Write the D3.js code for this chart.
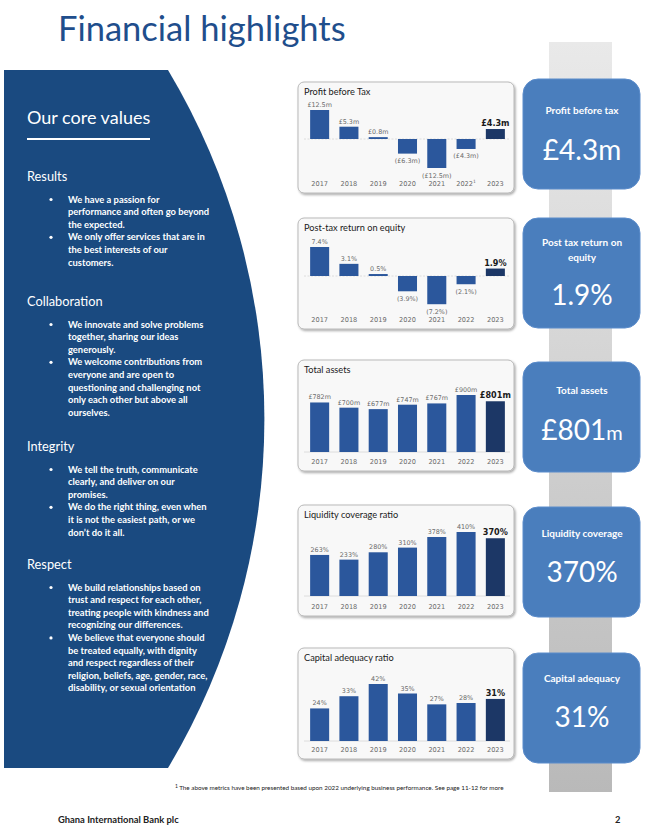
<!DOCTYPE html>
<html><head><meta charset="utf-8">
<script src="https://cdn.jsdelivr.net/npm/d3@7/dist/d3.min.js"></script>
<style>
html,body{margin:0;padding:0;background:#fff;}
svg{display:block;}
</style></head>
<body>
<script>
// ---------- data ----------
const years = ["2017","2018","2019","2020","2021","2022","2023"];
const profitBeforeTax = [12.5, 5.3, 0.8, -6.3, -12.5, -4.3, 4.3];
const returnOnEquity = [7.4, 3.1, 0.5, -3.9, -7.2, -2.1, 1.9];
const totalAssets = [782, 700, 677, 747, 767, 900, 801];
const liquidityCoverage = [263, 233, 280, 310, 378, 410, 370];
const capitalAdequacy = [24, 33, 42, 35, 27, 28, 31];
const chartTitles = ["Profit before Tax","Post-tax return on equity","Total assets","Liquidity coverage ratio","Capital adequacy ratio"];
const kpiTitles = [["Profit before tax"],["Post tax return on","equity"],["Total assets"],["Liquidity coverage"],["Capital adequacy"]];
const kpiValues = ["£4.3m","1.9%","£801","370%","31%"];
const valueGroups = [
  {title:"Results", bullets:[
    ["We have a passion for","performance and often go beyond","the expected."],
    ["We only offer services that are in","the best interests of our","customers."]]},
  {title:"Collaboration", bullets:[
    ["We innovate and solve problems","together, sharing our ideas","generously."],
    ["We welcome contributions from","everyone and are open to","questioning and challenging not","only each other but above all","ourselves."]]},
  {title:"Integrity", bullets:[
    ["We tell the truth, communicate","clearly, and deliver on our","promises."],
    ["We do the right thing, even when","it is not the easiest path, or we","don\u2019t do it all."]]},
  {title:"Respect", bullets:[
    ["We build relationships based on","trust and respect for each other,","treating people with kindness and","recognizing our differences."],
    ["We believe that everyone should","be treated equally, with dignity","and respect regardless of their","religion, beliefs, age, gender, race,","disability, or sexual orientation"]]}
];

const fmtPBT = v => v < 0 ? `(£${Math.abs(v).toFixed(1)}m)` : `£${v.toFixed(1)}m`;
const fmtROE = v => v < 0 ? `(${Math.abs(v).toFixed(1)}%)` : `${v.toFixed(1)}%`;
const fmtAssets = v => `£${v}m`;
const fmtPct = v => `${v}%`;

// ---------- layout ----------
const W = 647, H = 835;
const svg = d3.select("body").append("svg").attr("width", W).attr("height", H);
const defs = svg.append("defs");
const sh = defs.append("filter").attr("id","shadow").attr("x","-10%").attr("y","-10%").attr("width","130%").attr("height","130%");
sh.append("feDropShadow").attr("dx",1.2).attr("dy",1.5).attr("stdDeviation",1.2).attr("flood-color","#000").attr("flood-opacity",0.35);
const grad = defs.append("linearGradient").attr("id","colgrad").attr("x1",0).attr("y1",0).attr("x2",0).attr("y2",1);
grad.append("stop").attr("offset","0%").attr("stop-color","#e9e9e9");
grad.append("stop").attr("offset","100%").attr("stop-color","#b9b9b9");

const SANS = "Lato, 'Open Sans', sans-serif";
const GEO = "'DejaVu Sans', sans-serif";

// Title
svg.append("text").attr("x",58).attr("y",41).attr("font-family",SANS).attr("font-size",34.5)
  .attr("fill","#1f4e8c").text("Financial highlights");

// Left panel
svg.append("path").attr("d","M4,70 L168,70 A680,680 0 0 1 168,768 L4,768 Z").attr("fill","#1a4a80");
svg.append("text").attr("x",27).attr("y",124).attr("font-family",SANS).attr("font-size",18)
  .attr("fill","#fff").text("Our core values");
svg.append("rect").attr("x",27).attr("y",138).attr("width",123).attr("height",2).attr("fill","#fff");

const headY = [181, 306, 451, 569];
const LH = 12.6;
valueGroups.forEach((g, gi) => {
  let y = headY[gi];
  svg.append("text").attr("x",27).attr("y",y).attr("font-family",SANS).attr("font-size",12.8)
    .attr("fill","#fff").text(g.title);
  y += 21.5;
  g.bullets.forEach(lines => {
    svg.append("circle").attr("cx",51).attr("cy",y-3).attr("r",1.6).attr("fill","#fff");
    lines.forEach(l => {
      svg.append("text").attr("x",68).attr("y",y).attr("font-family",SANS).attr("font-weight",700)
        .attr("font-size",9.4).attr("fill","#fff").text(l);
      y += LH;
    });
  });
});

// Gray column + KPI boxes
svg.append("rect").attr("x",549).attr("y",42).attr("width",63).attr("height",750).attr("fill","url(#colgrad)");
const boxTop = [79, 218, 362, 507, 653];
const boxTitleY = [113.5, 245.5, 393.5, 536.5, 681.5];
const boxValueY = [160, 305, 440, 582, 727];
boxTop.forEach((t, i) => {
  const g = svg.append("g");
  g.append("rect").attr("x",523).attr("y",t).attr("width",117).attr("height",110).attr("rx",15)
    .attr("fill","#4a7ebd").attr("stroke","#5b8ccb").attr("stroke-width",1);
  kpiTitles[i].forEach((s, k) => {
    g.append("text").attr("x",582).attr("y",boxTitleY[i] + k*15.5).attr("text-anchor","middle")
      .attr("font-family",SANS).attr("font-weight",700).attr("font-size",10).attr("fill","#fff").text(s);
  });
  const vt = g.append("text").attr("x",582).attr("y",boxValueY[i]).attr("text-anchor","middle")
    .attr("font-family",SANS).attr("font-size",28).attr("fill","#fff").text(kpiValues[i]);
  if (i === 2) vt.append("tspan").attr("font-size",20).text("m");
});

// ---------- charts ----------
const charts = [
  {data:profitBeforeTax, fmt:fmtPBT, top:82, domain:[-12.5,12.5], range:[168,110], zeroLine:true},
  {data:returnOnEquity, fmt:fmtROE, top:218, domain:[-7.4,7.4], range:[305,247], zeroLine:true},
  {data:totalAssets, fmt:fmtAssets, top:360, domain:[0,900], range:[452,395]},
  {data:liquidityCoverage, fmt:fmtPct, top:505, domain:[0,410], range:[596,532]},
  {data:capitalAdequacy, fmt:fmtPct, top:648, domain:[0,42], range:[741,684]}
];
const x = d3.scaleBand().domain(years).range([305, 510]).paddingInner(0.35).paddingOuter(0.175);

charts.forEach((c, ci) => {
  const g = svg.append("g");
  g.append("rect").attr("x",298).attr("y",c.top).attr("width",216).attr("height",111).attr("rx",6)
    .attr("fill","#f8f8f8").attr("stroke","#a9a9a9").attr("stroke-width",0.8).attr("filter","url(#shadow)");
  g.append("text").attr("x",304).attr("y",c.top+13).attr("font-family",SANS).attr("font-size",9.2)
    .attr("fill","#1a1a1a").text(chartTitles[ci]);
  const y = d3.scaleLinear().domain(c.domain).range(c.range);
  const y0 = y(0);
  g.append("line").attr("x1",304).attr("x2",510).attr("y1",y0).attr("y2",y0)
    .attr("stroke","#d6d6d6").attr("stroke-width",0.8).attr("stroke-dasharray", c.zeroLine ? "2,1.5" : null);
  years.forEach((yr, i) => {
    const v = c.data[i];
    const last = i === years.length - 1;
    g.append("rect").attr("x",x(yr)).attr("width",x.bandwidth())
      .attr("y",Math.min(y(v), y0)).attr("height",Math.abs(y(v) - y0))
      .attr("fill", last ? "#1c3766" : "#2b579c");
    const cx = x(yr) + x.bandwidth()/2;
    const lbl = g.append("text").attr("x",cx).attr("text-anchor","middle").text(c.fmt(v));
    if (last) {
      lbl.attr("y", y(v) - 3).attr("font-family",GEO).attr("font-weight",700).attr("font-size",8.1).attr("fill","#1a1a1a");
    } else {
      lbl.attr("y", v < 0 ? y(v) + 9.5 : y(v) - 3).attr("font-family",GEO).attr("font-size",6.4).attr("fill","#6a6a6a");
    }
  });
  const axisY = c.top + 104;
  const yrText = g.selectAll(".yr").data(years).enter().append("text")
    .attr("x", d => x(d) + x.bandwidth()/2).attr("y", axisY).attr("text-anchor","middle")
    .attr("font-family",GEO).attr("font-size",6.6).attr("fill","#6a6a6a").text(d => d);
  if (ci === 0) yrText.filter(d => d === "2022").append("tspan").attr("font-size",4.5).attr("dy",-3).text("1");
});

// Footnote & footer
const fn = svg.append("text").attr("x",175).attr("y",790).attr("font-family",SANS).attr("font-size",6.3).attr("fill","#222");
fn.append("tspan").attr("font-size",5).attr("dy",-2.5).text("1 ");
fn.append("tspan").attr("dy",2.5).text("The above metrics have been presented based upon 2022 underlying business performance. See page 11-12 for more");
svg.append("text").attr("x",58).attr("y",823).attr("font-family",SANS).attr("font-weight",700).attr("font-size",9.4)
  .attr("fill","#222").text("Ghana International Bank plc");
svg.append("text").attr("x",615).attr("y",823).attr("font-family",SANS).attr("font-weight",700).attr("font-size",9.4)
  .attr("fill","#222").text("2");
</script>
</body></html>
